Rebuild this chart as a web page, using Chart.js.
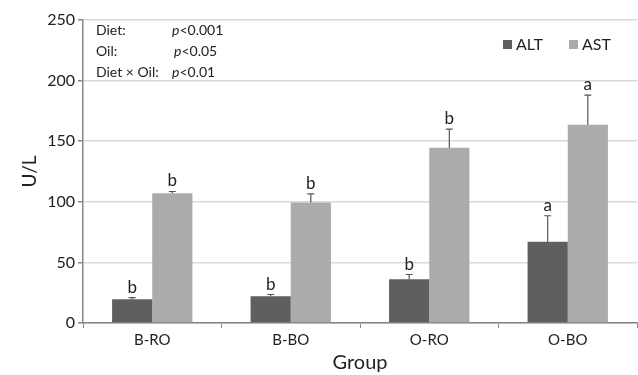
<!DOCTYPE html>
<html>
<head>
<meta charset="utf-8">
<script src="https://cdn.jsdelivr.net/npm/chart.js@4"></script>
<style>
  html, body { margin: 0; padding: 0; background: #fff; }
  #wrap { width: 638px; height: 375px; }
</style>
</head>
<body>
<div id="wrap"><canvas id="chart" width="638" height="375"></canvas></div>
<script>
const groups = ['B-RO', 'B-BO', 'O-RO', 'O-BO'];
const altValues = [19.5, 22, 36, 67];
const altErrors = [1.5, 1.5, 4, 21.5];
const altLetters = ['b', 'b', 'b', 'a'];
const astValues = [107, 99.5, 144.5, 163.5];
const astErrors = [1.5, 7, 15.5, 24.5];
const astLetters = ['b', 'b', 'b', 'a'];
const yTicks = [0, 50, 100, 150, 200, 250];
const statsLabels = ['Diet:', 'Oil:', 'Diet \u00d7 Oil:'];
const statsValues = ['<0.001', '<0.05', '<0.01'];

const FONT = 'Lato, "Open Sans", sans-serif';

// error bars (upper only) + significance letters
const errorBars = {
    id: 'errorBars',
    afterDatasetsDraw(chart) {
        const ctx = chart.ctx;
        const y = chart.scales.y;
        ctx.save();
        chart.data.datasets.forEach((ds, i) => {
            const meta = chart.getDatasetMeta(i);
            meta.data.forEach((bar, j) => {
                const top = y.getPixelForValue(ds.data[j] + ds.errors[j]);
                ctx.strokeStyle = '#555';
                ctx.lineWidth = 1.2;
                ctx.beginPath();
                ctx.moveTo(bar.x, bar.y);
                ctx.lineTo(bar.x, top);
                ctx.moveTo(bar.x - 3.5, top);
                ctx.lineTo(bar.x + 3.5, top);
                ctx.stroke();
                ctx.fillStyle = '#222';
                ctx.font = '17px ' + FONT;
                ctx.textAlign = 'center';
                ctx.textBaseline = 'alphabetic';
                ctx.fillText(ds.letters[j], bar.x, top - 5);
            });
        });
        ctx.restore();
    }
};

// p-value box and in-plot legend
const notes = {
    id: 'notes',
    afterDraw(chart) {
        const ctx = chart.ctx;
        const area = chart.chartArea;
        ctx.save();
        ctx.fillStyle = '#222';
        ctx.textBaseline = 'middle';
        ctx.textAlign = 'left';
        statsLabels.forEach((lab, i) => {
            const yy = area.top + 10 + i * 21;
            ctx.font = '14px ' + FONT;
            ctx.fillText(lab, area.left + 13, yy);
            const px = area.left + 89 + (i === 1 ? 2 : 0);
            ctx.font = 'italic 14px ' + FONT;
            ctx.fillText('p', px, yy);
            const w = ctx.measureText('p').width;
            ctx.font = '14px ' + FONT;
            ctx.fillText(statsValues[i], px + w, yy);
        });
        // legend
        const ly = area.top + 24;
        const items = [[area.left + 420, 0], [area.left + 486, 1]];
        items.forEach(([lx, i]) => {
            const ds = chart.data.datasets[i];
            ctx.fillStyle = ds.backgroundColor;
            ctx.fillRect(lx, ly - 4, 9, 9);
            ctx.fillStyle = '#222';
            ctx.font = '16px ' + FONT;
            ctx.fillText(ds.label, lx + 13, ly + 1);
        });
        ctx.restore();
    }
};

new Chart(document.getElementById('chart').getContext('2d'), {
    type: 'bar',
    data: {
        labels: groups,
        datasets: [
            { label: 'ALT', data: altValues, errors: altErrors, letters: altLetters, backgroundColor: '#5f5f5f' },
            { label: 'AST', data: astValues, errors: astErrors, letters: astLetters, backgroundColor: '#ababab' }
        ]
    },
    options: {
        responsive: false,
        animation: false,
        layout: { padding: { top: 20, right: 1, left: 0, bottom: 0 } },
        datasets: { bar: { barPercentage: 1, categoryPercentage: 0.58 } },
        scales: {
            x: {
                grid: { offset: true, drawOnChartArea: false, color: '#868686', tickLength: 5 },
                border: { color: '#868686', width: 1.5 },
                ticks: { color: '#222', font: { family: FONT, size: 15 }, padding: 3 },
                title: { display: true, text: 'Group', color: '#222', font: { family: FONT, size: 20 }, padding: 0 },
                afterFit(s) { s.height = 52; }
            },
            y: {
                min: 0,
                max: 250,
                afterBuildTicks(s) { s.ticks = yTicks.map(v => ({ value: v })); },
                grid: { color: '#d9d9d9', lineWidth: 1.5, tickColor: '#868686', tickLength: 5 },
                border: { color: '#868686', width: 1.5 },
                ticks: { color: '#222', font: { family: FONT, size: 16 }, padding: 3 },
                title: { display: true, text: 'U/L', color: '#222', font: { family: FONT, size: 19 }, padding: { top: 18 } },
                afterFit(s) { s.width = 83; }
            }
        },
        plugins: {
            legend: { display: false },
            tooltip: { enabled: false }
        }
    },
    plugins: [errorBars, notes]
});
</script>
</body>
</html>
